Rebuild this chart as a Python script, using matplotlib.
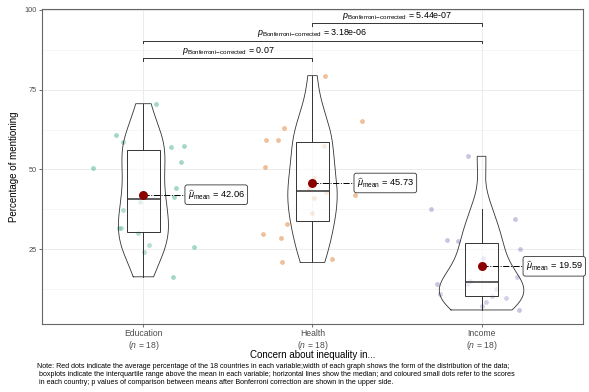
import numpy as np
import matplotlib.pyplot as plt

plt.rcParams['font.family'] = ['Liberation Sans', 'DejaVu Sans']
plt.rcParams['mathtext.fontset'] = 'custom'
plt.rcParams['mathtext.rm'] = 'Liberation Sans'
plt.rcParams['mathtext.it'] = 'Liberation Sans:italic'
plt.rcParams['mathtext.bf'] = 'Liberation Sans:bold'

# data
categories = ['Education', 'Health', 'Income']
n_obs = [18, 18, 18]
education = [70.6, 57.3, 57.1, 60.8, 58.6, 52.4, 50.5, 44.3, 41.3,
             39.8, 37.4, 31.7, 31.7, 30.1, 24.2, 26.3, 25.7, 16.3]
health = [79.4, 65.3, 63.0, 59.1, 57.4, 59.2, 50.7, 47.4, 43.8,
          41.9, 42.8, 41.0, 36.3, 32.8, 29.6, 28.5, 21.8, 20.8]
income = [54.1, 37.6, 34.4, 27.8, 27.6, 24.9, 22.2, 16.3, 12.6,
          9.6, 10.8, 8.5, 7.0, 5.9, 13.9, 10.3, 14.2, 14.9]
means = [42.06, 45.73, 19.59]
comparisons = [('Education', 'Health', '0.07'),
               ('Education', 'Income', '3.18e-06'),
               ('Health', 'Income', '5.44e-07')]
bracket_y = [84.8, 90.4, 95.8]

colors = ['#1b9e77', '#d95f02', '#7570b3']
groups = [education, health, income]
pos = np.arange(1, len(categories) + 1)


def nrd0(x):
    x = np.asarray(x)
    iqr = np.subtract(*np.percentile(x, [75, 25]))
    return 0.9 * min(x.std(ddof=1), iqr / 1.34) * len(x) ** -0.2


def kde(x, grid):
    bw = nrd0(x)
    z = (grid[:, None] - np.asarray(x)[None, :]) / bw
    return np.exp(-0.5 * z ** 2).sum(1) / (len(x) * bw * np.sqrt(2 * np.pi))


fig = plt.figure(figsize=(5.89, 3.92), dpi=100)
ax = fig.add_axes([0.0713, 0.1735, 0.9185, 0.8035])

# jittered country points
rng = np.random.default_rng(7)
for p, vals, c in zip(pos, groups, colors):
    jit = rng.uniform(-0.3, 0.3, len(vals))
    ax.scatter(p + jit, vals, s=12, color=c, alpha=0.4, lw=0, zorder=2)

# violins, scaled by area (common max density)
dens = []
for vals in groups:
    g = np.linspace(min(vals), max(vals), 512)
    dens.append((g, kde(vals, g)))
dmax = max(d.max() for _, d in dens)
for p, (g, d) in zip(pos, dens):
    half = 0.25 * d / dmax
    ax.fill_betweenx(g, p - half, p + half, facecolor='white', alpha=0.2, lw=0, zorder=3)
    xs = np.r_[p - half, (p + half)[::-1], p - half[0]]
    ys = np.r_[g, g[::-1], g[0]]
    ax.plot(xs, ys, color='#333333', lw=0.6, zorder=4)

ax.boxplot(groups, positions=pos, widths=0.2, showfliers=False, showcaps=False,
           patch_artist=True, zorder=5,
           boxprops=dict(facecolor=(1, 1, 1, 0.6), edgecolor='#333333', lw=0.7),
           whiskerprops=dict(color='#333333', lw=0.7),
           medianprops=dict(color='#333333', lw=1.1))

# means and labels
for p, m in zip(pos, means):
    ax.plot([p, p + 0.245], [m, m], color='black', lw=0.7, ls='-.', zorder=6)
    ax.scatter([p], [m], s=42, color='#8b0000', zorder=7, lw=0)
    ax.text(p + 0.262, m, r'$\widehat{\mu}_{\mathrm{mean}}$ = ' + f'{m:.2f}',
            ha='left', va='center', fontsize=6.7, zorder=8,
            bbox=dict(boxstyle='round,pad=0.3,rounding_size=0.25', fc='white',
                      ec='#333333', lw=0.6))

# pairwise comparison brackets
for (a, b, pv), y in zip(comparisons, bracket_y):
    xa = categories.index(a) + 1
    xb = categories.index(b) + 1
    ax.plot([xa, xa, xb, xb], [y - 0.8, y, y, y - 0.8], color='#333333', lw=0.7)
    ax.text((xa + xb) / 2, y + 0.4,
            r'$p_{\mathrm{Bonferroni{-}corrected}}$ = ' + pv,
            ha='center', va='bottom', fontsize=6.4)

ax.set_xlim(0.4, 3.6)
ax.set_ylim(1.5, 100.3)
ax.set_xticks(pos)
ax.set_xticklabels([f'{c}\n($\\it{{n}}$ = {n})' for c, n in zip(categories, n_obs)],
                   fontsize=6.2, color='#4d4d4d', linespacing=1.1)
ax.set_yticks([25, 50, 75, 100])
ax.set_yticks([12.5, 37.5, 62.5, 87.5], minor=True)
ax.tick_params(axis='y', which='major', labelsize=5.3, labelcolor='#4d4d4d',
               length=2, width=0.6, color='#555555', pad=1.5)
ax.tick_params(axis='y', which='minor', length=0)
ax.tick_params(axis='x', length=2, width=0.6, color='#555555', pad=1.5)
ax.grid(True, which='major', color='#ebebeb', lw=0.7)
ax.grid(True, which='minor', axis='y', color='#f2f2f2', lw=0.5)
ax.set_axisbelow(True)
for s in ax.spines.values():
    s.set_color('#666666')
    s.set_linewidth(0.8)

ax.set_ylabel('Percentage of mentioning', fontsize=7, labelpad=4)
fig.text(0.0713 + 0.9185 / 2, 1 - 355 / 392, 'Concern about inequality in...',
         ha='center', va='center', fontsize=7)

note = ("Note: Red dots indicate the average percentage of the 18 countries in each variable;"
        "width of each graph shows the form of the distribution of the data;\n"
        " boxplots indicate the interquartile range above the mean in each variable; "
        "horizontal lines show the median; and coloured small dots refer to the scores\n"
        " in each country; p values of comparison between means after Bonferroni correction "
        "are shown in the upper side.")
fig.text(37 / 589, 1 - 363 / 392, note, ha='left', va='top', fontsize=5.1, linespacing=1.25)

fig.savefig('out.png', dpi=100)
